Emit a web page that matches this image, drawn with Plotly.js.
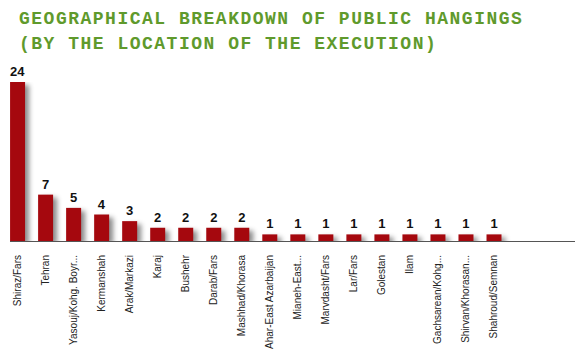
<!DOCTYPE html>
<html>
<head>
<meta charset="utf-8">
<script src="https://cdn.plot.ly/plotly-3.0.1.min.js"></script>
<style>
  html, body { margin: 0; padding: 0; background: #fff; }
  #chart { width: 584px; height: 355px; }
  .annotation-text { letter-spacing: 1.5px; }
  .bars .point path { filter: drop-shadow(4px 3px 2.5px rgba(0,0,0,0.45)); }
</style>
</head>
<body>
<div id="chart"></div>
<script>
const categories = [
  "Shiraz/Fars", "Tehran", "Yasouj/Kohg. Boyr...", "Kermanshah", "Arak/Markazi",
  "Karaj", "Bushehr", "Darab/Fars", "Mashhad/Khorasa", "Ahar-East Azarbaijan",
  "Mianeh-East...", "Marvdasht/Fars", "Lar/Fars", "Golestan", "Ilam",
  "Gachsarean/Kohg...", "Shirvan/Khorasan...", "Shahroud/Semnan"
];
const hangings = [24, 7, 5, 4, 3, 2, 2, 2, 2, 1, 1, 1, 1, 1, 1, 1, 1, 1];
const titleLine1 = "GEOGRAPHICAL BREAKDOWN OF PUBLIC HANGINGS";
const titleLine2 = "(BY THE LOCATION OF THE EXECUTION)";

const trace = {
  type: "bar",
  x: categories,
  y: hangings,
  text: hangings.map(String),
  textposition: "outside",
  cliponaxis: false,
  constraintext: "none",
  textfont: { family: "Liberation Sans, Arial, sans-serif", size: 13, color: "#111", weight: "bold" },
  marker: { color: "#a5080e", line: { width: 0 } },
  width: 0.535,
  hoverinfo: "none"
};

const titleFont = { family: "Liberation Mono, Courier New, monospace", size: 18, color: "#5f9a2c", weight: "bold" };

const layout = {
  width: 584,
  height: 355,
  margin: { l: 10, r: 9, t: 82, b: 114 },
  paper_bgcolor: "#ffffff",
  plot_bgcolor: "#ffffff",
  showlegend: false,
  xaxis: {
    type: "category",
    range: [-0.27, 19.89],
    tickangle: -90,
    tickfont: { family: "Liberation Sans, Arial, sans-serif", size: 10, color: "#222" },
    showline: true,
    linecolor: "#555",
    linewidth: 1,
    ticks: "",
    ticklabelstandoff: 9,
    showgrid: false,
    zeroline: false,
    fixedrange: true
  },
  yaxis: {
    range: [0, 24],
    visible: false,
    showgrid: false,
    zeroline: false,
    fixedrange: true
  },
  annotations: [
    { text: titleLine1, xref: "paper", yref: "paper", x: 0, y: 1, xanchor: "left", yanchor: "middle",
      xshift: 7, yshift: 63, showarrow: false, font: titleFont },
    { text: titleLine2, xref: "paper", yref: "paper", x: 0, y: 1, xanchor: "left", yanchor: "middle",
      xshift: 7, yshift: 38, showarrow: false, font: titleFont }
  ]
};

Plotly.newPlot("chart", [trace], layout, { displayModeBar: false, staticPlot: true });
</script>
</body>
</html>
